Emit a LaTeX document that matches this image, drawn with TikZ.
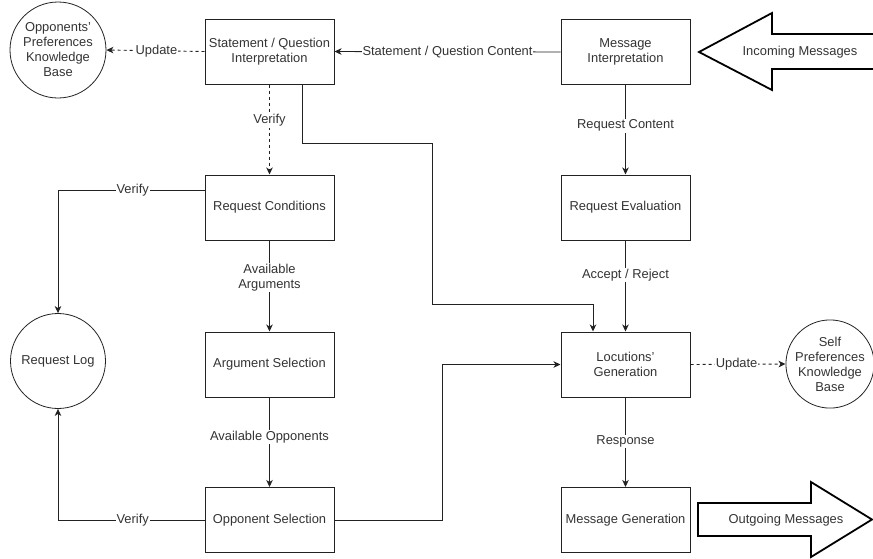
\documentclass[tikz,border=0pt]{standalone}
\usepackage{fontspec}
\setmainfont{Liberation Sans}
\usetikzlibrary{arrows.meta,calc}
\definecolor{ink}{HTML}{333333}
\definecolor{edge}{HTML}{222222}
\newcommand{\apos}{\symbol{"27}}
\tikzset{
  every node/.style={font=\fontsize{12.9}{15}\selectfont, text=ink},
  stage/.style={draw=edge, line width=1pt, minimum width=129pt, minimum height=65pt,
    inner sep=2pt, align=center},
  store/.style={draw=edge, line width=0.8pt, circle, inner sep=0pt, align=center},
  flow/.style={draw=edge, line width=0.9pt, -{Stealth[length=7pt,width=6.5pt,inset=2pt]}},
  dashflow/.style={flow, dash pattern=on 3pt off 3pt},
  lbl/.style={fill=white, inner sep=1pt, align=center},
  blockarrow/.style={draw=black, line width=1.8pt, line join=miter},
}
\begin{document}
\begin{tikzpicture}[x=1pt,y=-1pt]
\useasboundingbox (0,0) rectangle (873,558);

% processing stages
\node[stage] (sqi) at (269.5,51.5) {Statement / Question\\Interpretation};
\node[stage] (mi)  at (625.5,52)   {Message\\Interpretation};
\node[stage] (rc)  at (269.5,207.5) {Request Conditions};
\node[stage] (re)  at (625.5,207.5) {Request Evaluation};
\node[stage] (as)  at (269.5,364.5) {Argument Selection};
\node[stage] (lg)  at (625.5,364.5) {Locutions\apos\\Generation};
\node[stage] (os)  at (269.5,520)   {Opponent Selection};
\node[stage] (mg)  at (625.5,520)   {Message Generation};

% knowledge stores
\node[store, minimum size=96pt] (opkb) at (58,50) {Opponents\apos\\Preferences\\Knowledge\\Base};
\node[store, minimum size=95pt] (rl)   at (58,361) {Request Log};
\node[store, minimum size=86pt] (spkb) at (830,364) {Self\\Preferences\\Knowledge\\Base};

% incoming / outgoing message arrows
\draw[blockarrow] (875,34) -- (772,34) -- (772,13) -- (699,52) -- (772,90) -- (772,69) -- (875,69);
\node (inc) at (800,52) {Incoming Messages};
\draw[blockarrow] (698,503) -- (811,503) -- (811,482) -- (872,519.5) -- (811,557) -- (811,536) -- (698,536) -- cycle;
\node (out) at (786,520) {Outgoing Messages};

% bend points
\coordinate (b1) at (302,143);
\coordinate (b2) at (432,143);
\coordinate (b3) at (432,304);
\coordinate (b4) at (593,304);
\coordinate (v1) at (58,190);
\coordinate (v2) at (58,520);
\coordinate (o1) at (442,520);

% connectors
\draw[flow] (mi.west) -- node[lbl, pos=0.5] {Statement / Question Content} (sqi.east);
\draw[dashflow] (sqi.west) -- node[lbl, pos=0.49] {Update} (opkb.east);
\draw[dashflow] (sqi.south) -- node[lbl, pos=0.4] {Verify} (rc.north);
\draw[flow] ([xshift=32.5pt]sqi.south) -- (b1) -- (b2) -- (b3) -- (b4) -- ([xshift=-32.5pt]lg.north);
\draw[flow] (mi.south) -- node[lbl, pos=0.455] {Request Content} (re.north);
\draw[flow] (re.south) -- node[lbl, pos=0.38] {Accept / Reject} (lg.north);
\draw[flow] ([yshift=17.5pt]rc.west) -- node[lbl, pos=0.49] {Verify} (v1) -- (rl.north);
\draw[flow] (rc.south) -- node[lbl, pos=0.41] {Available\\Arguments} (as.north);
\draw[flow] (as.south) -- node[lbl, pos=0.44] {Available Opponents} (os.north);
\draw[flow] (os.west) -- node[lbl, pos=0.49] {Verify} (v2) -- (rl.south);
\draw[flow] (os.east) -- (o1) |- (lg.west);
\draw[dashflow] (lg.east) -- node[lbl, pos=0.485] {Update} (spkb.west);
\draw[flow] (lg.south) -- node[lbl, pos=0.49] {Response} (mg.north);
\end{tikzpicture}
\end{document}
